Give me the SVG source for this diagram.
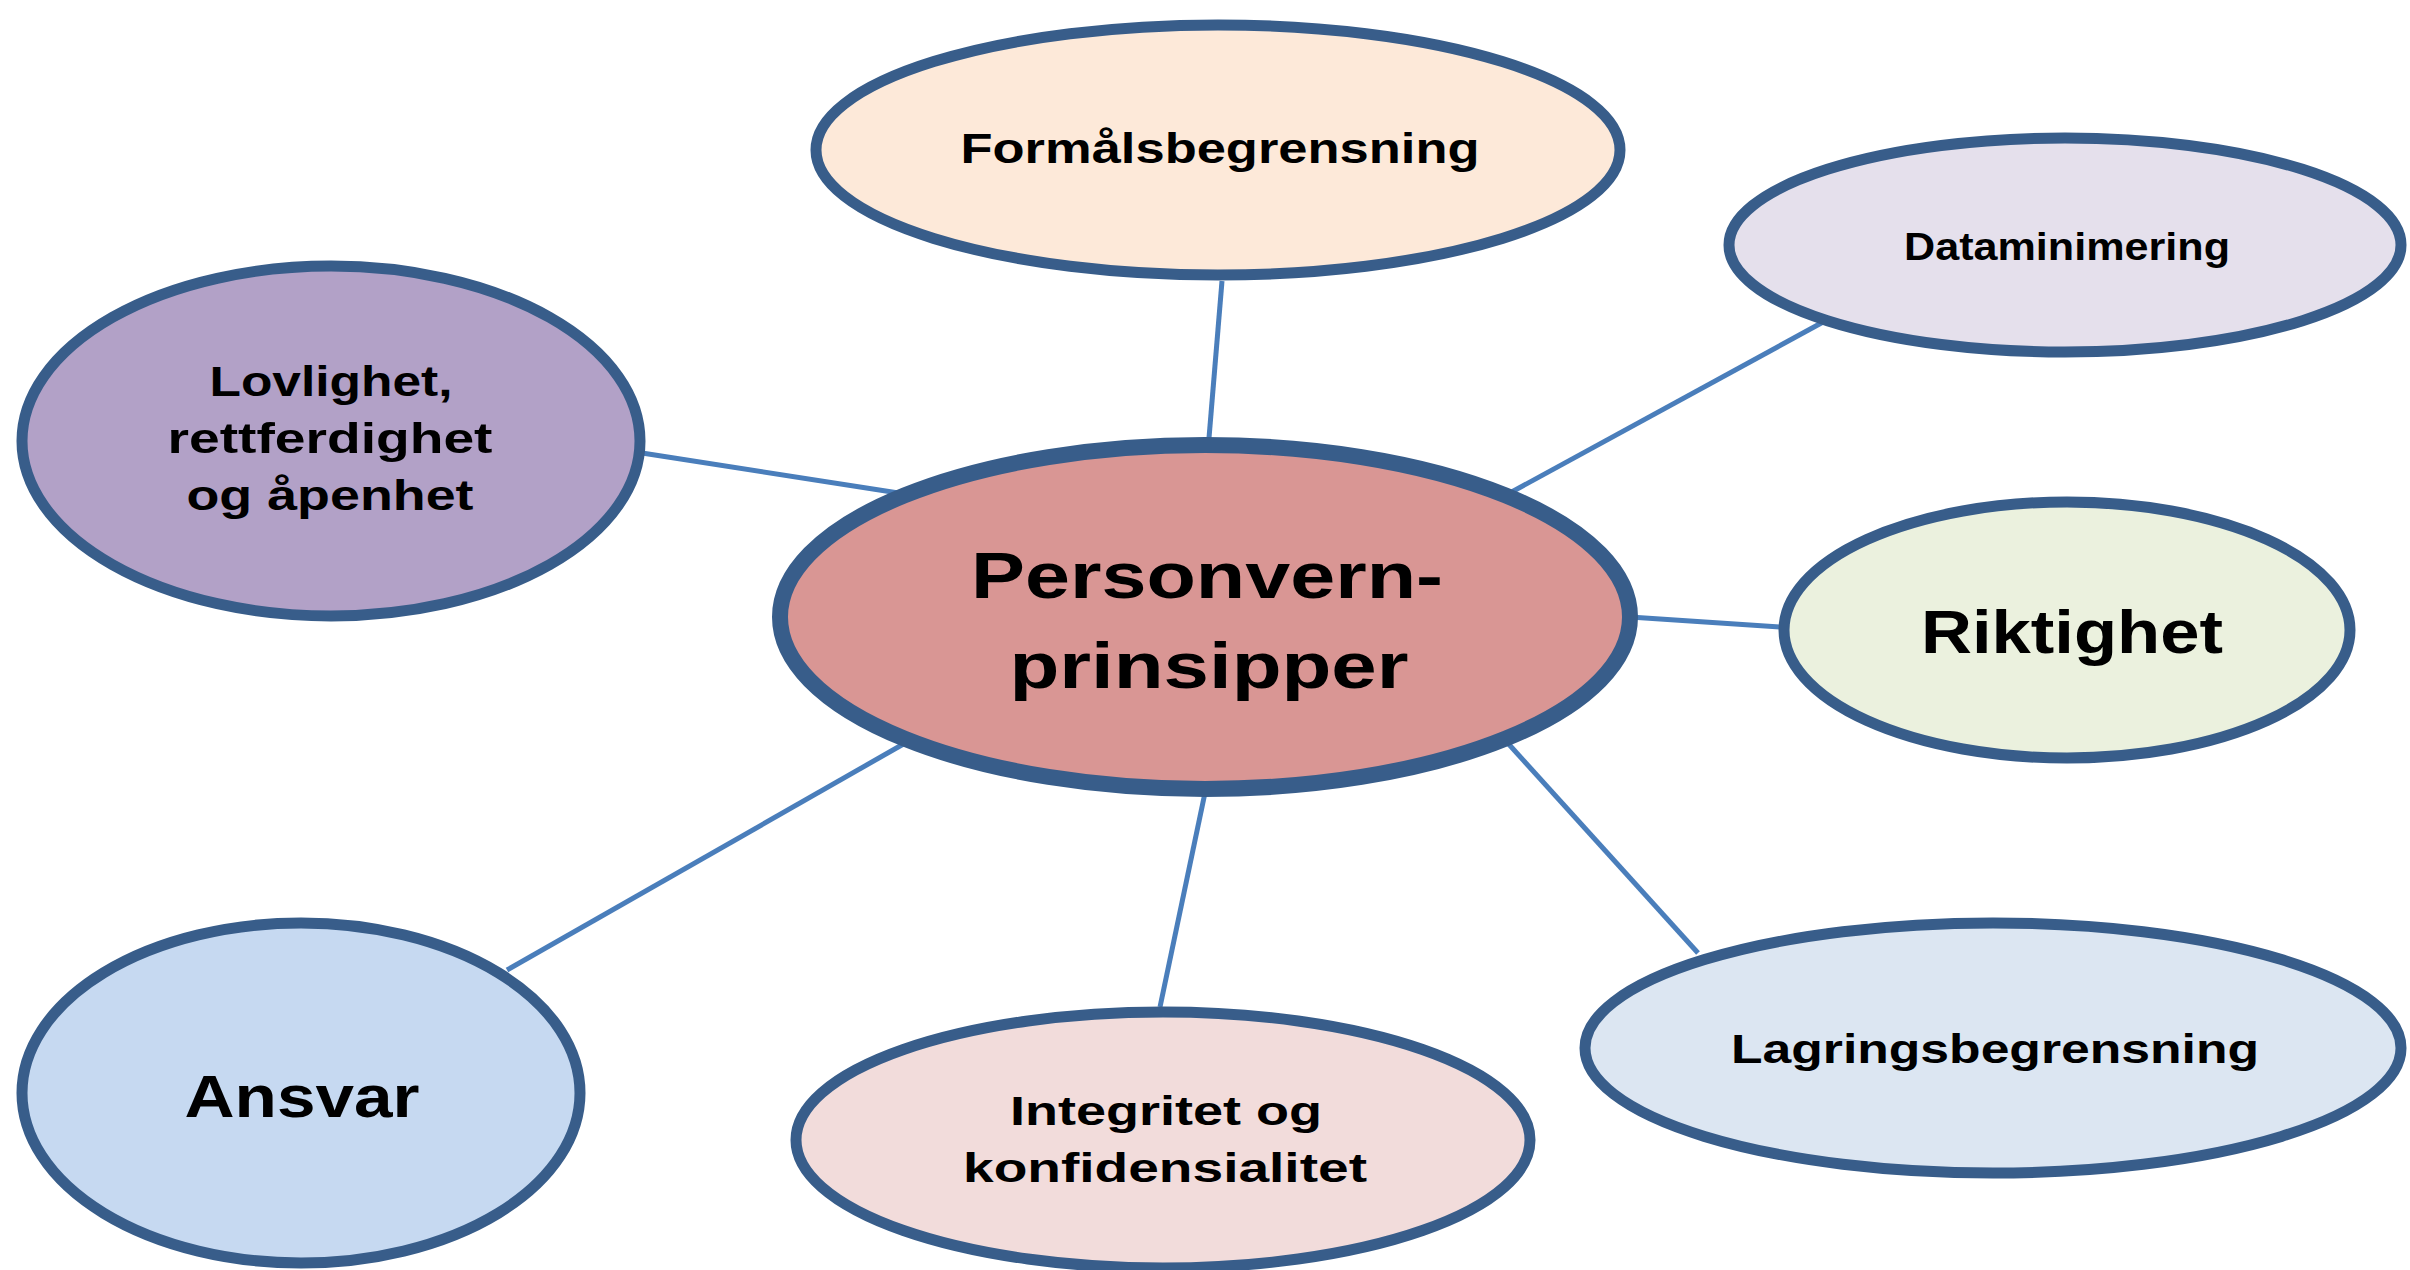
<svg xmlns="http://www.w3.org/2000/svg" width="2410" height="1270" viewBox="0 0 2410 1270">
<style>
.node ellipse{stroke:#385d8a;stroke-width:11}
#center ellipse{stroke-width:16}
.conn line{stroke:#4a7ebb;stroke-width:5}
text{font-family:"Liberation Sans",Arial,sans-serif;font-weight:bold;fill:#000;text-anchor:middle}
</style>
<rect width="2410" height="1270" fill="#ffffff"/>
<g id="connectors" class="conn">
<line x1="1222" y1="281" x2="1208" y2="450"/>
<line x1="1836" y1="315" x2="1508" y2="494"/>
<line x1="642" y1="453" x2="905" y2="494"/>
<line x1="1630" y1="617" x2="1780" y2="627"/>
<line x1="507" y1="970" x2="907" y2="742"/>
<line x1="1160" y1="1007" x2="1206" y2="788"/>
<line x1="1698" y1="953" x2="1505" y2="740"/>
</g>
<g id="formal" class="node">
<ellipse cx="1218" cy="150" rx="402" ry="125" fill="#fde9d9"/>
<text x="1220" y="163" font-size="42" textLength="519" lengthAdjust="spacingAndGlyphs">Formålsbegrensning</text>
</g>
<g id="dataminimering" class="node">
<ellipse cx="2065" cy="245" rx="336" ry="107" fill="#e5e0ec"/>
<text x="2067" y="260" font-size="38" textLength="326" lengthAdjust="spacingAndGlyphs">Dataminimering</text>
</g>
<g id="lovlighet" class="node">
<ellipse cx="331" cy="441" rx="309" ry="175" fill="#b2a1c7"/>
<text x="331" y="396" font-size="42" textLength="243" lengthAdjust="spacingAndGlyphs">Lovlighet,</text>
<text x="330" y="453" font-size="42" textLength="325" lengthAdjust="spacingAndGlyphs">rettferdighet</text>
<text x="330" y="510" font-size="42" textLength="287" lengthAdjust="spacingAndGlyphs">og åpenhet</text>
</g>
<g id="center" class="node">
<ellipse cx="1205" cy="617" rx="425" ry="172" fill="#d99694"/>
<text x="1207" y="598" font-size="64" textLength="472" lengthAdjust="spacingAndGlyphs">Personvern-</text>
<text x="1209" y="688" font-size="64" textLength="399" lengthAdjust="spacingAndGlyphs">prinsipper</text>
</g>
<g id="riktighet" class="node">
<ellipse cx="2067" cy="630" rx="283" ry="128" fill="#ebf1de"/>
<text x="2072" y="653" font-size="62" textLength="302" lengthAdjust="spacingAndGlyphs">Riktighet</text>
</g>
<g id="ansvar" class="node">
<ellipse cx="301" cy="1093" rx="279" ry="170" fill="#c6d9f1"/>
<text x="302" y="1117" font-size="59" textLength="235" lengthAdjust="spacingAndGlyphs">Ansvar</text>
</g>
<g id="integritet" class="node">
<ellipse cx="1163" cy="1140" rx="367" ry="128" fill="#f2dcdb"/>
<text x="1166" y="1125" font-size="41" textLength="312" lengthAdjust="spacingAndGlyphs">Integritet og</text>
<text x="1165" y="1182" font-size="41" textLength="404" lengthAdjust="spacingAndGlyphs">konfidensialitet</text>
</g>
<g id="lagring" class="node">
<ellipse cx="1993" cy="1048" rx="408" ry="125" fill="#dce6f2"/>
<text x="1995" y="1063" font-size="41" textLength="528" lengthAdjust="spacingAndGlyphs">Lagringsbegrensning</text>
</g>
</svg>
